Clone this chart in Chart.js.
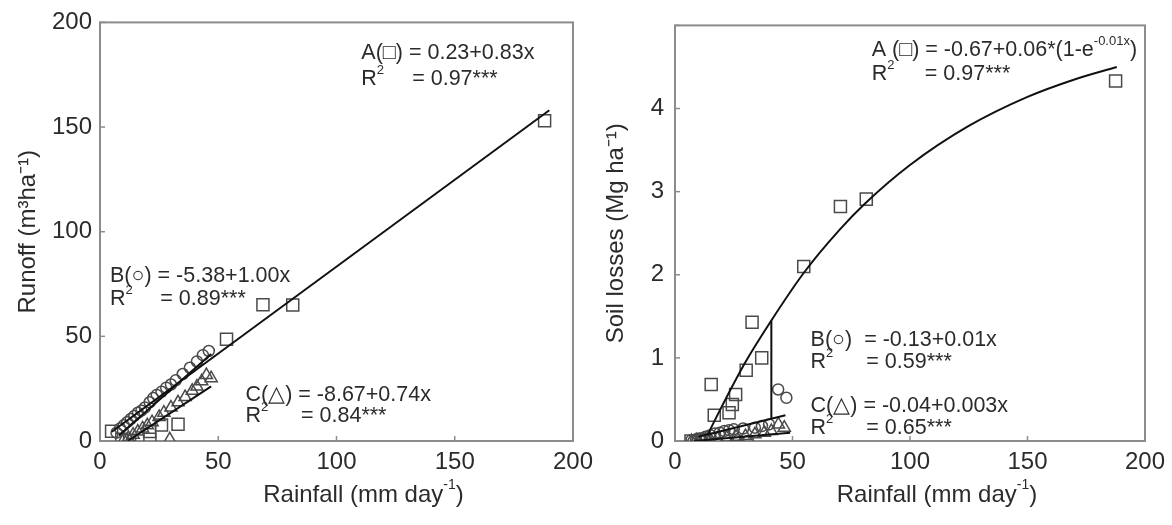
<!DOCTYPE html>
<html>
<head>
<meta charset="utf-8">
<script src="https://cdn.jsdelivr.net/npm/chart.js@4.4.0/dist/chart.umd.min.js"></script>
<style>
html, body { margin: 0; padding: 0; background: #fff; }
#wrap { position: relative; width: 1172px; height: 525px; }
.box { position: absolute; top: 0; height: 525px; }
#left { left: 0; width: 600px; }
#right { left: 600px; width: 572px; }
</style>
</head>
<body>
<div id="wrap">
  <div class="box" id="left"><canvas id="runoffChart"></canvas></div>
  <div class="box" id="right"><canvas id="soilChart"></canvas></div>
</div>
<script>
// ---- left panel: runoff ----
const xTicks = [0, 50, 100, 150, 200];
const runoffTicks = [0, 50, 100, 150, 200];

const runoffAx = [4.9, 9.2, 12.5, 21.1, 21, 26, 33, 53.5, 68.9, 81.5, 188];
const runoffAy = [4.7, 0.8, 0.4, 0.8, 4.6, 7.6, 8, 48.6, 65.1, 65, 153];

const runoffBx = [7, 8.5, 10, 11.5, 13, 14.5, 16, 17.5, 19, 21, 22.5, 24, 26, 28, 30, 32, 35, 38, 41, 43.5, 46];
const runoffBy = [4, 6, 7.5, 9, 10.5, 12, 13.5, 14.5, 16, 18.5, 20.5, 22, 23.5, 25.5, 27, 29, 32, 35, 38, 41, 43];

const runoffCx = [10, 12, 14, 16, 18, 20, 22, 25, 27, 30, 33, 36, 39, 41, 43, 45, 47, 29.5, 12.5];
const runoffCy = [0.5, 1.5, 3, 4.5, 6, 7.5, 9, 11.5, 13.5, 16, 18.5, 21, 24, 26, 28.5, 31.5, 30, 0.8, 0];

const runoffLineAx = [5, 190];
const runoffLineAy = [4.4, 158];
const runoffLineBx = [8, 47];
const runoffLineBy = [2.6, 41.6];
const runoffLineCx = [12, 47];
const runoffLineCy = [0.2, 26.1];

// ---- right panel: soil losses ----
const soilTicks = [0, 1, 2, 3, 4, 5];

const soilAx = [6.8, 9.9, 12, 15.4, 16.7, 23, 24.4, 25.8, 30.3, 32.8, 36.9, 54.8, 70.4, 81.4, 187.5];
const soilAy = [0, 0, 0.02, 0.68, 0.31, 0.34, 0.44, 0.56, 0.85, 1.43, 1.0, 2.10, 2.82, 2.91, 4.33];

const soilBx = [7, 9, 11, 13, 15, 17, 19, 21, 23, 25, 27, 29, 31, 34, 37, 40, 43.9, 47.4];
const soilBy = [0.01, 0.02, 0.03, 0.05, 0.07, 0.09, 0.1, 0.12, 0.13, 0.14, 0.01, 0.15, 0, 0.16, 0.18, 0.2, 0.62, 0.52];

const soilCx = [7, 9, 12, 15, 18, 22, 26, 30, 34, 38, 41, 44, 46.5];
const soilCy = [0, 0.01, 0.02, 0.02, 0.03, 0.04, 0.05, 0.06, 0.08, 0.1, 0.12, 0.2, 0.16];

const soilCurveAx = [13.8, 20, 30, 41, 55, 70, 81, 100, 125, 150, 170, 188];
const soilCurveAy = [0.07, 0.42, 0.95, 1.45, 2.03, 2.54, 2.86, 3.32, 3.79, 4.14, 4.35, 4.50];
const soilLineBx = [10, 47];
const soilLineBy = [0.05, 0.31];
const soilLineCx = [8, 49];
const soilLineCy = [0.0, 0.1];
const soilDropx = [41, 41];
const soilDropy = [0.27, 1.45];

const toPoints = (xs, ys) => xs.map((x, i) => ({ x: x, y: ys[i] }));

const FONT = '"Liberation Sans", Arial, sans-serif';
const TEXT = '#2b2b2b';

const lineSet = (xs, ys, smooth) => ({
    data: toPoints(xs, ys),
    showLine: true,
    borderColor: '#111',
    borderWidth: 2,
    pointRadius: 0,
    fill: false,
    cubicInterpolationMode: smooth ? 'monotone' : 'default',
    tension: smooth ? 0.4 : 0
});

const markerSet = (xs, ys, style, radius) => ({
    data: toPoints(xs, ys),
    showLine: false,
    pointStyle: style,
    pointRadius: radius,
    pointBorderColor: '#4a4a4a',
    pointBackgroundColor: 'rgba(255,255,255,0)',
    pointBorderWidth: 1.5
});

// frame box and inward tick marks
const framePlugin = {
    id: 'frame',
    beforeDatasetsDraw(chart) {
        const { ctx, chartArea: a, scales } = chart;
        ctx.save();
        ctx.strokeStyle = '#8c8c8c';
        ctx.lineWidth = 2;
        ctx.strokeRect(a.left, a.top, a.right - a.left, a.bottom - a.top);
        ctx.lineWidth = 1.5;
        scales.x.ticks.forEach(t => {
            const px = scales.x.getPixelForValue(t.value);
            ctx.beginPath();
            ctx.moveTo(px, a.bottom);
            ctx.lineTo(px, a.bottom - 5);
            ctx.stroke();
        });
        scales.y.ticks.forEach(t => {
            const py = scales.y.getPixelForValue(t.value);
            ctx.beginPath();
            ctx.moveTo(a.left, py);
            ctx.lineTo(a.left + 5, py);
            ctx.stroke();
        });
        ctx.restore();
    }
};

// equation texts and x axis title
const notesPlugin = {
    id: 'notes',
    afterDatasetsDraw(chart, args, opts) {
        const { ctx, chartArea: a, scales: { x, y } } = chart;
        ctx.save();
        ctx.fillStyle = TEXT;
        ctx.textBaseline = 'middle';
        const drawParts = (parts, px, py, size) => {
            parts.forEach(p => {
                const s = p.sup ? Math.round(size * 0.6) : size;
                ctx.font = s + 'px ' + FONT;
                ctx.fillText(p.t, px, py - (p.sup ? size * 0.4 : 0));
                px += ctx.measureText(p.t).width;
            });
        };
        (opts.items || []).forEach(it => {
            drawParts(it.parts, x.getPixelForValue(it.x), y.getPixelForValue(it.y), 21.5);
        });
        if (opts.xTitle) {
            let w = 0;
            opts.xTitle.forEach(p => {
                ctx.font = (p.sup ? Math.round(24 * 0.6) : 24) + 'px ' + FONT;
                w += ctx.measureText(p.t).width;
            });
            const cx = (a.left + a.right) / 2 + opts.xTitleShift;
            drawParts(opts.xTitle, cx - w / 2, opts.xTitleY, 24);
        }
        ctx.restore();
    }
};

const rainfallTitle = [{ t: 'Rainfall (mm day' }, { t: '-1', sup: true }, { t: ')' }];

const makeOptions = (cfg) => ({
    responsive: true,
    maintainAspectRatio: false,
    animation: false,
    layout: { padding: { top: cfg.top, right: cfg.right, left: 0, bottom: 0 } },
    plugins: {
        legend: { display: false },
        tooltip: { enabled: false },
        notes: { items: cfg.notes, xTitle: rainfallTitle, xTitleShift: 27, xTitleY: 495 }
    },
    scales: {
        x: {
            type: 'linear',
            min: 0,
            max: 200,
            afterBuildTicks: s => { s.ticks = xTicks.map(v => ({ value: v })); },
            afterFit: s => { s.height = 84; },
            grid: { display: false, drawTicks: false },
            border: { display: false },
            ticks: { color: TEXT, font: { family: FONT, size: 24 }, padding: 7, maxRotation: 0 }
        },
        y: {
            type: 'linear',
            min: 0,
            max: cfg.ymax,
            afterBuildTicks: s => { s.ticks = cfg.yTicks.map(v => ({ value: v })); },
            afterFit: s => { s.width = cfg.yWidth; },
            grid: { display: false, drawTicks: false },
            border: { display: false },
            ticks: {
                color: TEXT,
                font: { family: FONT, size: 24 },
                padding: cfg.yPad,
                callback: v => (v === cfg.hideTick ? '' : v)
            },
            title: {
                display: true,
                text: cfg.yTitle,
                color: TEXT,
                font: { family: FONT, size: 24 },
                padding: { top: cfg.titlePad, bottom: 0 }
            }
        }
    }
});

new Chart(document.getElementById('runoffChart').getContext('2d'), {
    type: 'scatter',
    data: {
        datasets: [
            lineSet(runoffLineAx, runoffLineAy, false),
            lineSet(runoffLineBx, runoffLineBy, false),
            lineSet(runoffLineCx, runoffLineCy, false),
            markerSet(runoffAx, runoffAy, 'rect', 8.5),
            markerSet(runoffBx, runoffBy, 'circle', 5.5),
            markerSet(runoffCx, runoffCy, 'triangle', 7)
        ]
    },
    options: makeOptions({
        top: 18, right: 26, ymax: 200, yTicks: runoffTicks, yWidth: 100, yPad: 8,
        hideTick: null, yTitle: 'Runoff (m³ha⁻¹)', titlePad: 14,
        notes: [
            { x: 110.5, y: 185.5, parts: [{ t: 'A(□) = 0.23+0.83x' }] },
            { x: 110.5, y: 173, parts: [{ t: 'R' }, { t: '2', sup: true }] },
            { x: 132, y: 173, parts: [{ t: '= 0.97***' }] },
            { x: 4.2, y: 79, parts: [{ t: 'B(○) = -5.38+1.00x' }] },
            { x: 4.2, y: 68, parts: [{ t: 'R' }, { t: '2', sup: true }] },
            { x: 25.5, y: 68, parts: [{ t: '= 0.89***' }] },
            { x: 61.5, y: 22, parts: [{ t: 'C(△) = -8.67+0.74x' }] },
            { x: 61.5, y: 12, parts: [{ t: 'R' }, { t: '2', sup: true }] },
            { x: 85, y: 12, parts: [{ t: '= 0.84***' }] }
        ]
    }),
    plugins: [framePlugin, notesPlugin]
});

new Chart(document.getElementById('soilChart').getContext('2d'), {
    type: 'scatter',
    data: {
        datasets: [
            lineSet(soilCurveAx, soilCurveAy, true),
            lineSet(soilLineBx, soilLineBy, false),
            lineSet(soilLineCx, soilLineCy, false),
            lineSet(soilDropx, soilDropy, false),
            markerSet(soilAx, soilAy, 'rect', 8.5),
            markerSet(soilBx, soilBy, 'circle', 5.5),
            markerSet(soilCx, soilCy, 'triangle', 7)
        ]
    },
    options: makeOptions({
        top: 19, right: 19, ymax: 5, yTicks: soilTicks, yWidth: 75, yPad: 11,
        hideTick: 5, yTitle: 'Soil losses (Mg ha⁻¹)', titlePad: 2,
        notes: [
            { x: 83.7, y: 4.70, parts: [{ t: 'A (□) = -0.67+0.06*(1-e' }, { t: '-0.01x', sup: true }, { t: ')' }] },
            { x: 83.7, y: 4.42, parts: [{ t: 'R' }, { t: '2', sup: true }] },
            { x: 106.3, y: 4.42, parts: [{ t: '= 0.97***' }] },
            { x: 57.7, y: 1.21, parts: [{ t: 'B(○)  = -0.13+0.01x' }] },
            { x: 57.7, y: 0.95, parts: [{ t: 'R' }, { t: '2', sup: true }] },
            { x: 81.4, y: 0.95, parts: [{ t: '= 0.59***' }] },
            { x: 57.7, y: 0.42, parts: [{ t: 'C(△) = -0.04+0.003x' }] },
            { x: 57.7, y: 0.16, parts: [{ t: 'R' }, { t: '2', sup: true }] },
            { x: 81.4, y: 0.16, parts: [{ t: '= 0.65***' }] }
        ]
    }),
    plugins: [framePlugin, notesPlugin]
});
</script>
</body>
</html>
